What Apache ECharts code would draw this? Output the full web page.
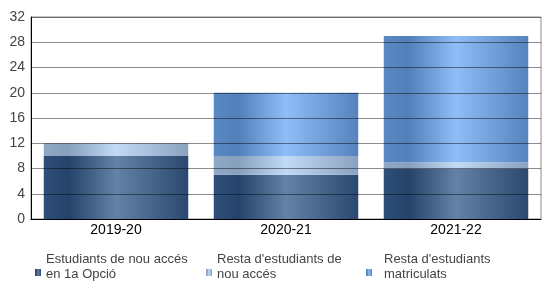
<!DOCTYPE html>
<html><head><meta charset="utf-8">
<script src="https://cdn.jsdelivr.net/npm/echarts@6/dist/echarts.min.js"></script>
<style>html,body{margin:0;padding:0;background:#fff}#c{width:550px;height:305px}</style>
</head><body><div id="c"></div>
<script>
const categories = ['2019-20', '2020-21', '2021-22'];
const seriesNames = ['Estudiants de nou accés\nen 1a Opció', "Resta d'estudiants de\nnou accés", "Resta d'estudiants\nmatriculats"];
const primeraOpcio = [10, 7, 8];
const restaNouAcces = [2, 3, 1];
const restaMatriculats = [0, 10, 20];
const yTicks = [0, 4, 8, 12, 16, 20, 24, 28, 32];

function grad(stops) {
  return new echarts.graphic.LinearGradient(0, 0, 1, 0, stops.map((c, i) => ({offset: [0, 0.17, 0.5, 1][i], color: c})));
}
const colors = [
  grad(['#2f5079', '#25426a', '#6382a6', '#2b4870']),
  grad(['#8fa8c4', '#87a0bd', '#c1daf5', '#8aa2bf']),
  grad(['#5a88c2', '#5280ba', '#8fbdf7', '#5683bd'])
];
const dataSets = [primeraOpcio, restaNouAcces, restaMatriculats];
const font = 'Liberation Sans, Arial, sans-serif';
const legendLeft = [35, 206, 366];
const legendExtraGap = [0, 0, 7];

const chart = echarts.init(document.getElementById('c'), null, {renderer: 'canvas'});
chart.setOption({
  animation: false,
  grid: {left: 31, right: 9, top: 17, bottom: 86, show: true, borderColor: '#8c8c8c', borderWidth: 1, backgroundColor: 'transparent'},
  xAxis: {
    type: 'category', data: categories, z: 5,
    axisLine: {lineStyle: {color: '#000', width: 1}},
    axisTick: {show: false},
    axisLabel: {color: '#000', fontFamily: font, fontSize: 14, margin: 4}
  },
  yAxis: {
    type: 'value', min: yTicks[0], max: yTicks[yTicks.length - 1], interval: 4, z: 5,
    axisLine: {show: true, lineStyle: {color: '#000', width: 1}},
    axisTick: {show: false},
    axisLabel: {color: '#444', fontFamily: font, fontSize: 14, margin: 6},
    splitLine: {lineStyle: {color: 'rgba(0,0,0,0.45)', width: 1}}
  },
  legend: seriesNames.map((n, i) => ({
    left: legendLeft[i], top: 252, padding: 0, itemWidth: 6, itemHeight: 7, icon: 'rect',
    formatter: (name) => name + '\n{p|}',
    textStyle: {fontFamily: font, fontSize: 13, color: '#444', lineHeight: 15, padding: [0, 0, 0, legendExtraGap[i]],
      rich: {p: {fontSize: 1, lineHeight: 11, height: 11}}},
    data: [n]
  })),
  series: dataSets.map((d, i) => ({
    name: seriesNames[i], type: 'bar', stack: 'total', data: d, barWidth: '85%', z: 2,
    itemStyle: {color: colors[i]}
  }))
});
</script></body></html>
